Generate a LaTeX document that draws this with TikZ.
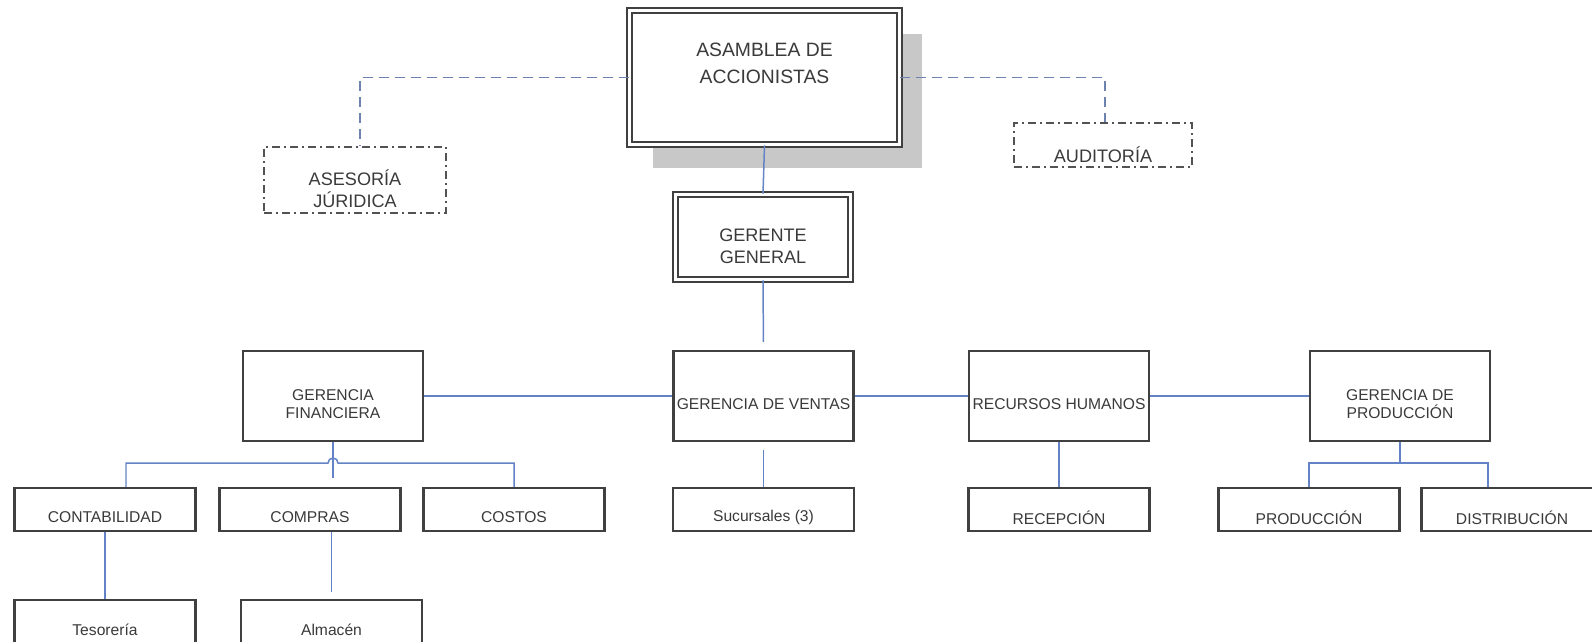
\documentclass[tikz,border=0pt]{standalone}
\usepackage{fontspec}
\setmainfont{Liberation Sans}
\usetikzlibrary{shadows}
\definecolor{boxcol}{RGB}{64,64,64}
\definecolor{txtcol}{RGB}{58,58,58}
\definecolor{linkcol}{RGB}{100,130,198}
\definecolor{dashcol}{RGB}{110,130,175}
\definecolor{shadecol}{RGB}{200,200,200}
\begin{document}
\begin{tikzpicture}[
        x=0.02cm, y=-0.02cm,
        txt/.style={text=txtcol, align=center, font=\fontsize{8.9}{10.2}\selectfont},
        box/.style={draw=boxcol, line width=1.35pt, fill=white, inner sep=0pt, minimum width=3.6cm, minimum height=1.8cm},
        smallbox/.style={box, minimum width=3.62cm, minimum height=0.86cm},
        dblbox/.style={draw=boxcol, double=white, double distance=1.6pt, line width=1pt, inner sep=0pt},
        dotbox/.style={draw=boxcol!90, line width=1.3pt, dash pattern=on 0.16cm off 0.08cm on 0.04cm off 0.08cm, inner sep=0pt},
        tx/.style={label={[txt, yshift=-0.16cm]center:#1}},
        link/.style={draw=linkcol, line width=0.85pt},
        dlink/.style={draw=dashcol, line width=0.85pt, dash pattern=on 0.2cm off 0.12cm}
    ]
        \useasboundingbox (0,0) rectangle (1592,642);
        \clip (0,0) rectangle (1592,642);

        % top level
        \node[dblbox, minimum width=5.4cm, minimum height=2.68cm, fill=white,
              drop shadow={shadow xshift=0.46cm, shadow yshift=-0.47cm, fill=shadecol, opacity=1},
              label={[txt, font=\fontsize{11}{15.4}\selectfont, yshift=0.28cm]center:ASAMBLEA DE\\ACCIONISTAS}] (asamblea) at (764.5,77.5) {};
        \node[dotbox, minimum width=3.64cm, minimum height=1.32cm,
              label={[txt, font=\fontsize{10.3}{12.5}\selectfont, yshift=-0.18cm]center:ASESORÍA\\JÚRIDICA}] (asesoria) at (355,180) {};
        \node[dotbox, minimum width=3.56cm, minimum height=0.88cm,
              label={[txt, font=\fontsize{10.3}{12.5}\selectfont, yshift=-0.19cm]center:AUDITORÍA}] (auditoria) at (1103,145) {};
        \node[dblbox, minimum width=3.5cm, minimum height=1.7cm,
              label={[txt, font=\fontsize{10.3}{12.5}\selectfont, yshift=-0.18cm]center:GERENTE\\GENERAL}] (gerente) at (763,237) {};

        % gerencias
        \node[box, tx={GERENCIA\\FINANCIERA}] (financiera) at (333,396) {};
        \node[box, tx={GERENCIA DE VENTAS}] (ventas) at (763.5,396) {};
        \node[box, tx={RECURSOS HUMANOS}] (rrhh) at (1059,396) {};
        \node[box, tx={GERENCIA DE\\PRODUCCIÓN}] (gproduccion) at (1400,396) {};

        % departamentos
        \node[smallbox, tx={CONTABILIDAD}] (contabilidad) at (105,509.5) {};
        \node[smallbox, tx={COMPRAS}] (compras) at (310,509.5) {};
        \node[smallbox, tx={COSTOS}] (costos) at (514,509.5) {};
        \node[smallbox, tx={Sucursales (3)}] (sucursales) at (763.5,509.5) {};
        \node[smallbox, tx={RECEPCIÓN}] (recepcion) at (1059,509.5) {};
        \node[smallbox, tx={PRODUCCIÓN}] (produccion) at (1309,509.5) {};
        \node[smallbox, tx={DISTRIBUCIÓN}] (distribucion) at (1512,509.5) {};
        \node[smallbox, tx={Tesorería}] (tesoreria) at (105,621.5) {};
        \node[smallbox, tx={Almacén}] (almacen) at (331.5,621.5) {};

        \coordinate (fbus) at (333,463);
        \coordinate (pbus) at (1400,463);

        \draw[dlink] (asamblea.west) -| ([xshift=0.1cm]asesoria.north);
        \draw[dlink] (asamblea.east) -| ([xshift=0.04cm]auditoria.north);
        \draw[link] (asamblea.south) -- (gerente.north);
        \draw[link, shorten >=0.16cm] (gerente.south) -- (ventas.north);

        \draw[link] (financiera.east) -- (ventas.west);
        \draw[link] (ventas.east) -- (rrhh.west);
        \draw[link] (rrhh.east) -- (gproduccion.west);

        \draw[link, shorten >=0.17cm] (financiera.south) -- (financiera.south |- compras.north);
        \draw[link] ([xshift=0.42cm]contabilidad.north) |- ([xshift=-0.1cm]fbus)
            arc[start angle=180, end angle=0, radius=0.1cm] -| (costos.north);
        \draw[link, shorten <=0.16cm] (ventas.south) -- (sucursales.north);
        \draw[link] (rrhh.south) -- (recepcion.north);
        \draw[link] (gproduccion.south) -- (pbus);
        \draw[link] (produccion.north) |- (pbus) -| ([xshift=-0.48cm]distribucion.north);

        \draw[link] (contabilidad.south) -- (tesoreria.north);
        \draw[link, shorten >=0.14cm] (compras.south -| almacen.north) -- (almacen.north);
    \end{tikzpicture}
\end{document}
